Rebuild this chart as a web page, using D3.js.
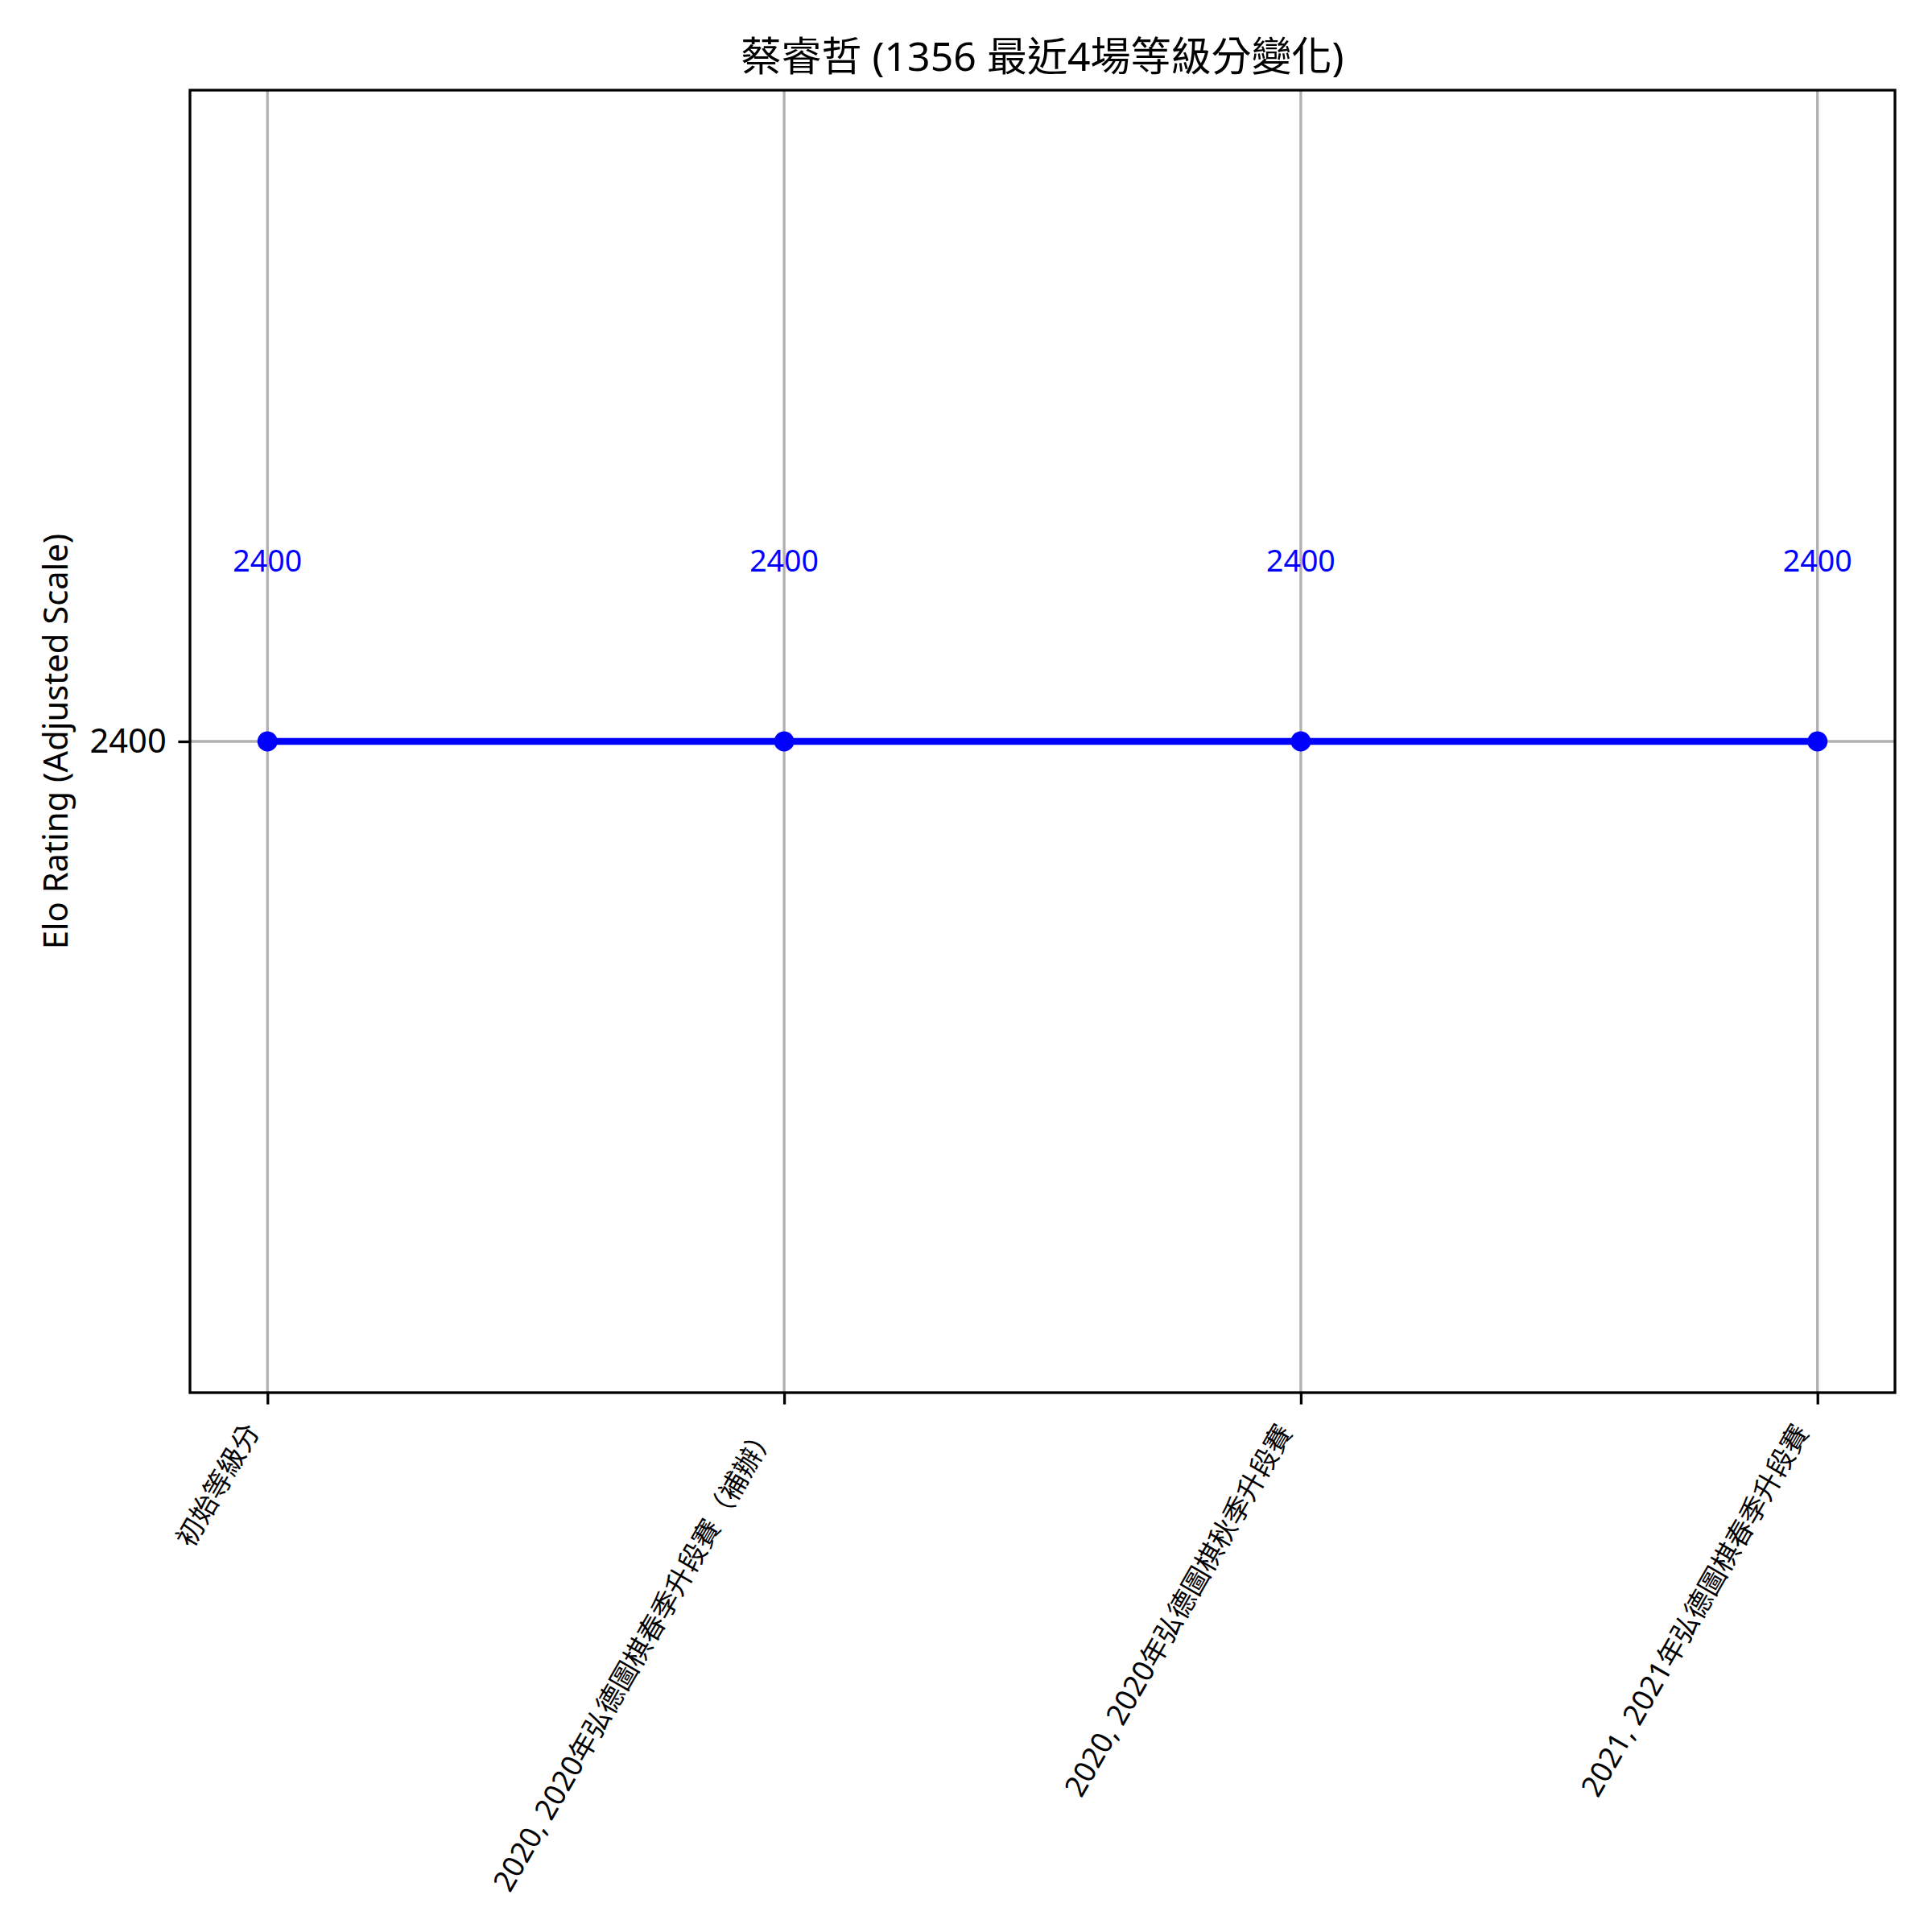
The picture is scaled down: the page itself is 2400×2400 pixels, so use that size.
<!DOCTYPE html>
<html>
<head>
<meta charset="utf-8">
<script src="https://cdn.jsdelivr.net/npm/d3@7"></script>
<style>
  html, body { margin: 0; padding: 0; background: #fff; }
  text { font-family: "Noto Sans", "Noto Sans CJK TC", sans-serif; }
</style>
</head>
<body>
<svg id="chart" width="2400" height="2400"></svg>
<script>
const titleText = "蔡睿哲 (1356 最近4場等級分變化)";
const yLabelText = "Elo Rating (Adjusted Scale)";
const categories = ["初始等級分", "2020, 2020年弘德圖棋春季升段賽（補辦）", "2020, 2020年弘德圖棋秋季升段賽", "2021, 2021年弘德圖棋春季升段賽"];
const ratings = [2400, 2400, 2400, 2400];
const yTicks = [2400];
const yDomain = [2350, 2450];

const W = 2400, H = 2400;
const m = { left: 236, right: 2354, top: 112, bottom: 1730 };
const svg = d3.select("#chart");
svg.append("rect").attr("width", W).attr("height", H).attr("fill", "#fff");

const idx = categories.map((d, i) => i);
const x = d3.scaleLinear().domain([-0.15, categories.length - 1 + 0.15]).range([m.left, m.right]);
const y = d3.scaleLinear().domain(yDomain).range([m.bottom, m.top]);

const gridColor = "#b0b0b0", gw = 3.3;
// grid
svg.append("g").selectAll("line").data(idx).join("line")
  .attr("x1", d => x(d)).attr("x2", d => x(d))
  .attr("y1", m.top).attr("y2", m.bottom)
  .attr("stroke", gridColor).attr("stroke-width", gw);
svg.append("g").selectAll("line").data(yTicks).join("line")
  .attr("x1", m.left).attr("x2", m.right)
  .attr("y1", d => y(d)).attr("y2", d => y(d))
  .attr("stroke", gridColor).attr("stroke-width", gw);

// line
const line = d3.line().x((d, i) => x(i)).y(d => y(d));
svg.append("path").datum(ratings).attr("d", line)
  .attr("fill", "none").attr("stroke", "#0000ff").attr("stroke-width", 8.3);
svg.append("g").selectAll("circle").data(ratings).join("circle")
  .attr("cx", (d, i) => x(i)).attr("cy", d => y(d)).attr("r", 12.5).attr("fill", "#0000ff");

// annotations
svg.append("g").selectAll("text").data(ratings).join("text")
  .attr("x", (d, i) => x(i)).attr("y", d => y(d) - 211)
  .attr("text-anchor", "middle").attr("font-size", 37.5).attr("fill", "#0000ff")
  .text(d => d);

// spines
svg.append("rect").attr("x", m.left).attr("y", m.top)
  .attr("width", m.right - m.left).attr("height", m.bottom - m.top)
  .attr("fill", "none").attr("stroke", "#000").attr("stroke-width", 3.3);

// y axis
const yAxis = d3.axisLeft(y).tickValues(yTicks).tickSize(14.6).tickPadding(14.6).tickFormat(d3.format("d"));
const gy = svg.append("g").attr("transform", `translate(${m.left},0)`).call(yAxis);
gy.select(".domain").remove();
gy.selectAll(".tick line").attr("stroke", "#000").attr("stroke-width", 3.3);
gy.selectAll(".tick text").attr("font-size", 41.7).attr("fill", "#000").attr("font-family", null);

// x axis
const xAxis = d3.axisBottom(x).tickValues(idx).tickSize(14.6).tickFormat(() => "");
const gx = svg.append("g").attr("transform", `translate(0,${m.bottom})`).call(xAxis);
gx.select(".domain").remove();
gx.selectAll(".tick line").attr("stroke", "#000").attr("stroke-width", 3.3);

// rotated x labels (matplotlib rotation=60, ha='right')
const ang = -60, rad = ang * Math.PI / 180;
const labelTop = m.bottom + 14.6 + 14.6;
const xl = svg.append("g");
const isCJK = ch => /[\u3000-\u9fff\uff00-\uffef]/.test(ch);
categories.forEach((c, i) => {
  const t = xl.append("text").attr("text-anchor", "end").attr("fill", "#000");
  const runs = [];
  for (const ch of c) {
    const k = isCJK(ch);
    if (runs.length && runs[runs.length - 1].k === k) runs[runs.length - 1].s += ch;
    else runs.push({ k, s: ch });
  }
  runs.forEach(r => t.append("tspan").attr("font-size", r.k ? 34 : 36.5).text(r.s));
  const b = t.node().getBBox();
  const pts = [[b.x, b.y], [b.x + b.width, b.y], [b.x, b.y + b.height], [b.x + b.width, b.y + b.height]]
    .map(([px, py]) => [px * Math.cos(rad) - py * Math.sin(rad), px * Math.sin(rad) + py * Math.cos(rad)]);
  const maxX = d3.max(pts, p => p[0]);
  const minY = d3.min(pts, p => p[1]);
  t.attr("transform", `translate(${x(i) - maxX},${labelTop - minY}) rotate(${ang})`);
});

// title
svg.append("text").attr("x", (m.left + m.right) / 2).attr("y", 88)
  .attr("text-anchor", "middle").attr("font-size", 50).attr("fill", "#000").text(titleText);

// y label
svg.append("text").attr("transform", `translate(84,${(m.top + m.bottom) / 2}) rotate(-90)`)
  .attr("text-anchor", "middle").attr("font-size", 41.7).attr("fill", "#000").text(yLabelText);
</script>
</body>
</html>
